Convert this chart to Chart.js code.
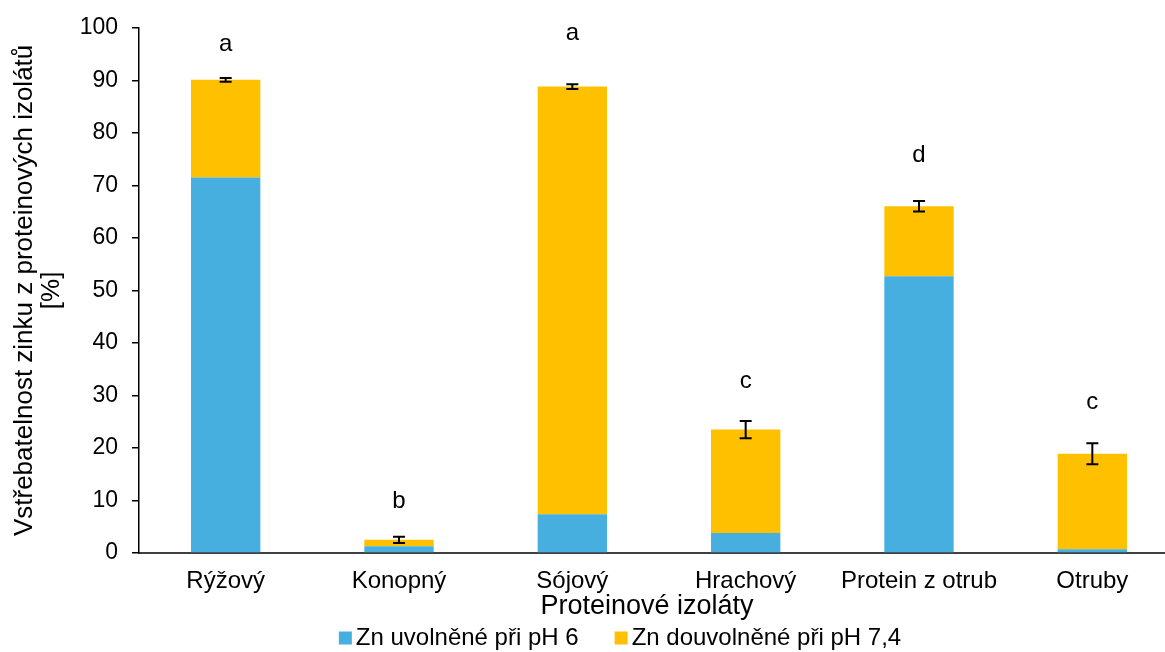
<!DOCTYPE html>
<html lang="cs">
<head>
<meta charset="utf-8">
<title>Vstřebatelnost zinku z proteinových izolátů</title>
<script src="https://cdn.jsdelivr.net/npm/chart.js@4/dist/chart.umd.min.js"></script>
<style>
  html, body { margin: 0; padding: 0; background: #ffffff; overflow: hidden; }
  #wrap { position: relative; width: 1179px; height: 652px; }
</style>
</head>
<body>
<div id="wrap"><canvas id="chart"></canvas></div>
<script>
// Proteinové izoláty
const categories = ['Rýžový', 'Konopný', 'Sójový', 'Hrachový', 'Protein z otrub', 'Otruby'];
// Zn uvolněné při pH 6 [%]
const releasedPH6 = [71.5, 1.3, 7.4, 3.8, 52.7, 0.7];
// Zn douvolněné při pH 7,4 [%] (přírůstek nad pH 6)
const addedPH74 = [18.6, 1.2, 81.4, 19.7, 13.3, 18.2];
// Směrodatná odchylka celkové vstřebatelnosti
const totalSD = [0.35, 0.6, 0.45, 1.65, 1.0, 2.0];
// Statistická skupina (homogenní skupiny) a výška popisku na ose y
const groupLetters = ['a', 'b', 'a', 'c', 'd', 'c'];
const letterLevels = [96.8, 9.9, 98.9, 32.7, 75.7, 28.7];
// Osa y
const yTicks = [0, 10, 20, 30, 40, 50, 60, 70, 80, 90, 100];

const seriesNames = ['Zn uvolněné při pH 6', 'Zn douvolněné při pH 7,4'];
const seriesColors = ['#47AFDF', '#FFC000'];
const FONT = '"Liberation Sans", Arial, sans-serif';

// Chybové úsečky, písmena skupin, popisek osy x a legenda
const annotations = {
  id: 'annotations',
  afterDatasetsDraw(chart) {
    const ctx = chart.ctx;
    const x = chart.scales.x, y = chart.scales.y;
    ctx.save();
    // chybové úsečky na součtu obou částí
    ctx.strokeStyle = '#000000';
    ctx.lineWidth = 2;
    categories.forEach((c, i) => {
      const total = releasedPH6[i] + addedPH74[i];
      const cx = x.getPixelForValue(i);
      const yHi = y.getPixelForValue(total + totalSD[i]);
      const yLo = y.getPixelForValue(total - totalSD[i]);
      const cap = 6;
      ctx.beginPath();
      ctx.moveTo(cx, yHi); ctx.lineTo(cx, yLo);
      ctx.moveTo(cx - cap, yHi); ctx.lineTo(cx + cap, yHi);
      ctx.moveTo(cx - cap, yLo); ctx.lineTo(cx + cap, yLo);
      ctx.stroke();
    });
    // písmena homogenních skupin
    ctx.fillStyle = '#000000';
    ctx.font = '24px ' + FONT;
    ctx.textAlign = 'center';
    ctx.textBaseline = 'middle';
    groupLetters.forEach((g, i) => {
      ctx.fillText(g, x.getPixelForValue(i), y.getPixelForValue(letterLevels[i]));
    });
    // popisek osy x
    ctx.font = '27px ' + FONT;
    ctx.fillText('Proteinové izoláty', 647, 607);
    // legenda
    ctx.font = '24px ' + FONT;
    const box = 13, textGap = 4, itemGap = 36;
    const widths = seriesNames.map(n => ctx.measureText(n).width);
    const total = widths.reduce((s, w) => s + box + textGap + w, 0) + itemGap * (seriesNames.length - 1);
    let lx = 620 - total / 2;
    const ly = 638;
    ctx.textAlign = 'left';
    seriesNames.forEach((n, i) => {
      ctx.fillStyle = seriesColors[i];
      ctx.fillRect(lx, ly - box / 2, box, box);
      ctx.fillStyle = '#000000';
      ctx.fillText(n, lx + box + textGap, ly);
      lx += box + textGap + widths[i] + itemGap;
    });
    ctx.restore();
  }
};

new Chart(document.getElementById('chart'), {
  type: 'bar',
  data: {
    labels: categories,
    datasets: [
      { label: seriesNames[0], data: releasedPH6, backgroundColor: seriesColors[0], borderWidth: 0 },
      { label: seriesNames[1], data: addedPH74, backgroundColor: seriesColors[1], borderWidth: 0 }
    ]
  },
  options: {
    responsive: true,
    maintainAspectRatio: false,
    animation: false,
    events: [],
    layout: { padding: { top: 27, right: 0, bottom: 0, left: 0 } },
    datasets: { bar: { categoryPercentage: 1.0, barPercentage: 0.4 } },
    plugins: { legend: { display: false }, tooltip: { enabled: false } },
    scales: {
      x: {
        stacked: true,
        grid: { display: false, drawTicks: false },
        border: { display: true, color: '#404040', width: 2 },
        ticks: { color: '#000000', padding: 14, font: { family: FONT, size: 24 } },
        afterFit(scale) { scale.height = 99; }
      },
      y: {
        stacked: true,
        min: 0,
        max: 100,
        afterBuildTicks(scale) { scale.ticks = yTicks.map(v => ({ value: v })); },
        grid: { drawOnChartArea: false, drawTicks: true, tickLength: 7, color: '#000000', lineWidth: 1.5 },
        border: { display: true, color: '#000000', width: 1.5 },
        ticks: { color: '#000000', padding: 14, font: { family: FONT, size: 23 } },
        title: {
          display: true,
          text: ['Vstřebatelnost zinku z proteinových izolátů', '[%]'],
          color: '#000000',
          font: { family: FONT, size: 26, lineHeight: 1.05 },
          padding: { top: 11, bottom: 0 }
        },
        afterFit(scale) { scale.width = 139; }
      }
    }
  },
  plugins: [annotations]
});
</script>
</body>
</html>
